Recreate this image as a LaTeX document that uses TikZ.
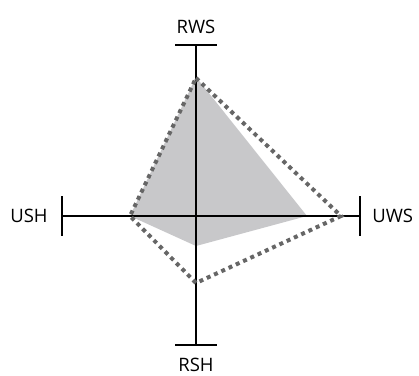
\documentclass[tikz,border=0pt]{standalone}
\usepackage{fontspec}
\setmainfont{Open Sans}
\usepackage{tikz}
\usetikzlibrary{positioning}
\definecolor{polyfill}{RGB}{200,200,202}
\definecolor{polydots}{RGB}{102,102,102}
\tikzset{every picture/.style={line width=0.75pt}}

\begin{document}
\begin{tikzpicture}[x=1pt,y=1pt,yscale=-1,xscale=1,
  axisline/.style={line width=2.2pt},
  tickline/.style={line width=2.6pt},
  axislabel/.style={inner sep=0pt,font=\fontsize{18.5}{22}\selectfont},
  dotline/.style={color=polydots,line width=4pt,dash pattern={on 4pt off 4pt}}]
\useasboundingbox (0,0) rectangle (419,375);

% Coordinates
\coordinate (O) at (196,216);
\coordinate (top) at (196,45);
\coordinate (bottom) at (196,345);
\coordinate (left) at (62,216);
\coordinate (right) at (360,216);

%Shape: Polygon [id:fill]
\fill [polyfill] (196,77) -- (307,216) -- (196,246) -- (130,216) -- cycle ;

%Straight Lines [id:axes]
\draw [axisline] (top) -- (bottom) ;
\draw [axisline] (left) -- (right) ;
%Straight Lines [id:ticks]
\draw [tickline] ([xshift=-21pt]top) -- ([xshift=21pt]top) ;
\draw [tickline] ([xshift=-21pt]bottom) -- ([xshift=21pt]bottom) ;
\draw [tickline] ([yshift=-20pt]left) -- ([yshift=20pt]left) ;
\draw [tickline] ([yshift=-20pt]right) -- ([yshift=20pt]right) ;

%Shape: Polygon [id:dots]
\draw [dotline] (196,78) -- (341,216) -- (196,283) -- (130,216) -- cycle ;

% Text Node
\node (rws) [axislabel,anchor=base] at (196,33) {RWS};
% Text Node
\node (rsh) [axislabel,anchor=base] at (196,371) {RSH};
% Text Node
\node (ush) [axislabel,left=14pt of left] {USH};
% Text Node
\node (uws) [axislabel,right=12pt of right] {UWS};

\end{tikzpicture}
\end{document}
